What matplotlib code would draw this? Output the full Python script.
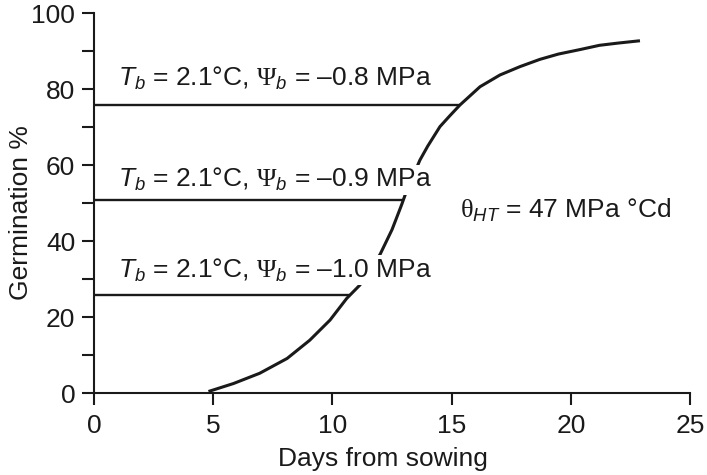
# germination_plot.py
# Cumulative germination curve with base-water-potential thresholds.
import numpy as np
import matplotlib
matplotlib.use('Agg')
import matplotlib.pyplot as plt

# Data
days = [4.8, 5.85, 6.95, 8.1, 9.05, 9.9, 10.6, 11.15, 12.0, 12.5, 12.9, 13.1,
        13.67, 14.0, 14.51, 14.93, 15.35, 16.19, 17.03, 17.87, 18.7, 19.48,
        20.4, 21.2, 22.0, 22.9]
germination = [0.4, 2.5, 5.2, 9.1, 13.9, 19.2, 24.9, 28.4, 36.5, 43.0, 49.5, 53.0,
               61.3, 65.0, 70.1, 73.0, 75.8, 80.6, 83.7, 85.9, 87.8, 89.2,
               90.4, 91.5, 92.1, 92.7]

levels = [75.8, 50.8, 25.8]
psi_b = ['\u20130.8', '\u20130.9', '\u20131.0']
label_y = [80.8, 54.2, 30.4]
theta_ht = 47

plt.rcParams['font.family'] = ['Liberation Sans', 'DejaVu Sans']
plt.rcParams['font.size'] = 19
plt.rcParams['mathtext.fontset'] = 'custom'
plt.rcParams['mathtext.rm'] = 'Liberation Serif'
plt.rcParams['mathtext.it'] = 'Liberation Sans:italic'

ink = '#1a1a1a'

fig = plt.figure(figsize=(7.07, 4.75), dpi=100)
ax = fig.add_axes([0.133, 0.1726, 0.843, 0.8])

# germination curve
ax.plot(days, germination, color=ink, lw=2.2, zorder=2,
        solid_capstyle='butt', solid_joinstyle='round')

# horizontal threshold lines, from 0 to where they meet the curve
for lev, psi, ty in zip(levels, psi_b, label_y):
    x_end = np.interp(lev, germination, days)
    ax.hlines(lev, 0, x_end, color=ink, lw=1.7, zorder=1)
    ax.text(1.0, ty, r'$T_b$ = 2.1°C, $\mathrm{\Psi}_b$ = ' + psi + ' MPa',
            ha='left', va='baseline', color=ink, zorder=3,
            bbox=dict(facecolor='white', edgecolor='none', pad=1.0))

ax.text(15.35, 46, r'$\mathrm{\theta}_{HT}$ = ' + str(theta_ht) + ' MPa °Cd',
        ha='left', va='baseline', color=ink)

ax.set_xlim(0, 25)
ax.set_ylim(0, 100)
ax.set_xticks(range(0, 26, 5))
ax.set_yticks(range(0, 101, 20))
ax.set_yticks(range(10, 100, 20), minor=True)

for side in ['top', 'right']:
    ax.spines[side].set_visible(False)
for side in ['left', 'bottom']:
    ax.spines[side].set_linewidth(1.5)
    ax.spines[side].set_color(ink)

ax.tick_params(axis='both', which='both', direction='out', length=8.5, width=1.5, color=ink, labelcolor=ink)
ax.tick_params(axis='x', pad=6.5)
ax.tick_params(axis='y', pad=5)

ax.set_xlabel('Days from sowing', color=ink)
ax.set_ylabel('Germination %', color=ink)
ax.xaxis.set_label_coords(0.485, -0.142)
ax.yaxis.set_label_coords(-0.102, 0.474)

fig.savefig('out.png', dpi=100)
